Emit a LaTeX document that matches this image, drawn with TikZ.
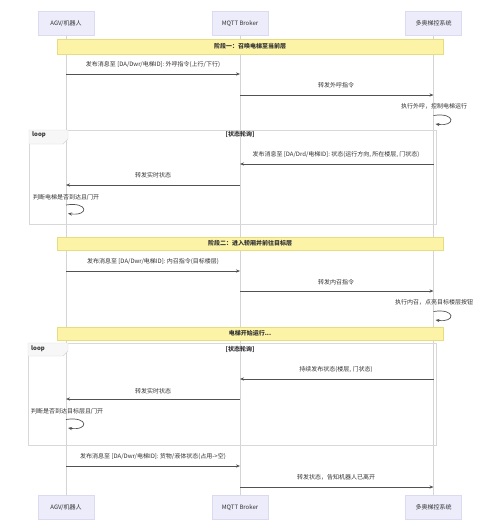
\documentclass[tikz,border=0pt]{standalone}
\usepackage{fontspec}
\setmainfont{Noto Sans CJK SC}
\usetikzlibrary{arrows.meta}
\definecolor{partfill}{HTML}{ECECFA}
\definecolor{partline}{HTML}{DADAF0}
\definecolor{notefill}{HTML}{FCF3A6}
\definecolor{noteline}{HTML}{E6DC80}
\definecolor{txt}{HTML}{333333}
\definecolor{lifeln}{HTML}{D4D4D4}
\definecolor{frameln}{HTML}{D8D8D8}
\begin{document}
\begin{tikzpicture}[x=1pt,y=-1pt,
  every node/.style={text=txt,font=\fontsize{6}{7}\selectfont,inner sep=0pt},
  bold/.style={font=\fontsize{6}{7}\selectfont\bfseries},
  part/.style={fill=partfill,draw=partline,line width=0.4pt,minimum width=56pt,minimum height=24pt},
  life/.style={draw=lifeln,line width=0.6pt},
  msg/.style={draw=txt!85,line width=0.8pt,-{Stealth[length=4pt,width=3.2pt]}},
  selfmsg/.style={draw=txt!85,line width=0.7pt,-{Stealth[length=4pt,width=3.2pt]}},
  note/.style={fill=notefill,draw=noteline,line width=0.5pt},
  frame/.style={draw=frameln,line width=0.6pt},
  tab/.style={fill=black!3,draw=frameln,line width=0.4pt}]
\useasboundingbox[fill=white] (0,0) rectangle (500,531);
% participants
\node[part] (agvT) at (66,23.5) {AGV/机器人};
\node[part] (mqT) at (240,23.5) {MQTT Broker};
\node[part] (ecT) at (433.5,23.5) {多奥梯控系统};
\node[part] (agvB) at (66,507.5) {AGV/机器人};
\node[part] (mqB) at (240,507.5) {MQTT Broker};
\node[part] (ecB) at (433.5,507.5) {多奥梯控系统};
\draw[life] (agvT) -- (agvB);
\draw[life] (mqT) -- (mqB);
\draw[life] (ecT) -- (ecB);
% phase 1
\draw[note] (57,39) rectangle (443,54);
\node[bold] (n1) at (250,46.5) {阶段一：召唤电梯至当前层};
\node (t1) at (153,65) {发布消息至 [DA/Dwr/电梯ID]: 外呼指令(上行/下行)};
\draw[msg] (agvT |- 0,74) -- (mqT |- 0,74);
\node (t2) at (336,85) {转发外呼指令};
\draw[msg] (mqT |- 0,95) -- (ecT |- 0,95);
\node (t3) at (434,106) {执行外呼，控制电梯运行};
\coordinate (s1a) at (433.5,115.5);
\coordinate (s1b) at (435.5,124);
\draw[selfmsg] (s1a) .. controls (456,112) and (456,127) .. (s1b);
% loop 1
\draw[frame] (29,130) rectangle (436,224);
\draw[tab] (29,130) -- (68,130) -- (68,139) -- (63,144) -- (29,144) -- cycle;
\node[anchor=west,bold] (l1) at (32,134.5) {loop};
\node[bold] (c1) at (240,134.5) {[状态轮询]};
\node (t4) at (336,155) {发布消息至 [DA/Drd/电梯ID]: 状态(运行方向, 所在楼层, 门状态)};
\draw[msg] (ecT |- 0,164) -- (mqT |- 0,164);
\node (t5) at (153,175) {转发实时状态};
\draw[msg] (mqT |- 0,185) -- (agvT |- 0,185);
\node[anchor=west] (t6) at (33,197) {判断电梯是否到达且门开};
\coordinate (s2a) at (66,205);
\coordinate (s2b) at (68,213.5);
\draw[selfmsg] (s2a) .. controls (89,201.5) and (89,216.5) .. (s2b);
% phase 2
\draw[note] (57,237) rectangle (443,250);
\node[bold] (n2) at (250,243.5) {阶段二：进入轿厢并前往目标层};
\node (t7) at (153,262) {发布消息至 [DA/Dwr/电梯ID]: 内召指令(目标楼层)};
\draw[msg] (agvT |- 0,271) -- (mqT |- 0,271);
\node (t8) at (336,282) {转发内召指令};
\draw[msg] (mqT |- 0,291) -- (ecT |- 0,291);
\node (t9) at (434,302) {执行内召，点亮目标楼层按钮};
\coordinate (s3a) at (433.5,311.5);
\coordinate (s3b) at (435.5,320);
\draw[selfmsg] (s3a) .. controls (456,308) and (456,323) .. (s3b);
% note
\draw[note] (57,327) rectangle (443,340);
\node[bold] (n3) at (250,333.5) {电梯开始运行...};
% loop 2
\draw[frame] (28,343) rectangle (436,445);
\draw[tab] (28,343) -- (68,343) -- (68,351) -- (63,356) -- (28,356) -- cycle;
\node[anchor=west,bold] (l2) at (31,349) {loop};
\node[bold] (c2) at (240,349) {[状态轮询]};
\node (t10) at (336,370) {持续发布状态(楼层, 门状态)};
\draw[msg] (ecT |- 0,379) -- (mqT |- 0,379);
\node (t11) at (153,391) {转发实时状态};
\draw[msg] (mqT |- 0,399) -- (agvT |- 0,399);
\node[anchor=west] (t12) at (31,411) {判断是否到达目标层且门开};
\coordinate (s4a) at (66,419.5);
\coordinate (s4b) at (68,428);
\draw[selfmsg] (s4a) .. controls (89,416) and (89,431) .. (s4b);
% final
\node (t13) at (153,457) {发布消息至 [DA/Dwr/电梯ID]: 货物/液体状态(占用->空)};
\draw[msg] (agvT |- 0,466) -- (mqT |- 0,466);
\node (t14) at (336,477) {转发状态，告知机器人已离开};
\draw[msg] (mqT |- 0,487) -- (ecT |- 0,487);
\end{tikzpicture}
\end{document}
